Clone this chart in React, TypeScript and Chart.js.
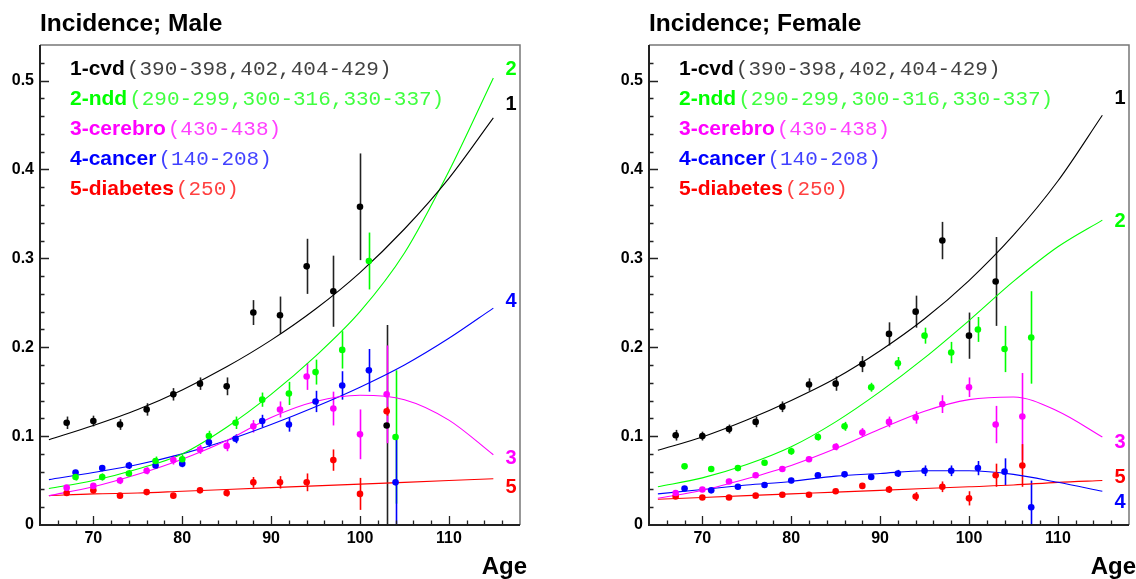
import React, { useEffect, useRef } from "react";
import { Chart, registerables } from "chart.js";

Chart.register(...registerables);

// ---------- shared ----------
const SERIES_NAMES = ["1-cvd", "2-ndd", "3-cerebro", "4-cancer", "5-diabetes"];
const SERIES_CODES = ["(390-398,402,404-429)", "(290-299,300-316,330-337)", "(430-438)", "(140-208)", "(250)"];
const SERIES_COLORS = ["#000000", "#00ff00", "#ff00ff", "#0000ff", "#ff0000"];
const ERR_COLORS = ["#222222", "#00ff00", "#ff00ff", "#0000ff", "#ff0000"];
const END_TAGS = ["1", "2", "3", "4", "5"];

const X_MIN = 64;
const X_MAX = 118;
const Y_MIN = 0;
const Y_MAX = 0.54;
const X_TICKS = [70, 80, 90, 100, 110];
const X_TICK_LABELS = ["70", "80", "90", "100", "110"];
const Y_TICKS = [0, 0.1, 0.2, 0.3, 0.4, 0.5];
const Y_TICK_LABELS = ["0", "0.1", "0.2", "0.3", "0.4", "0.5"];
const X_AXIS_TITLE = "Age";

const FIT_AGES = [65, 70, 75, 80, 85, 90, 95, 100, 105, 110, 115];

// ---------- Male ----------
const cvdAgeM = [67, 70, 73, 76, 79, 82, 85, 88, 91, 94, 97, 100, 103];
const cvdValM = [0.115, 0.117, 0.113, 0.130, 0.147, 0.159, 0.156, 0.239, 0.236, 0.291, 0.263, 0.358, 0.112];
const cvdErrM = [0.007, 0.006, 0.006, 0.007, 0.007, 0.007, 0.010, 0.014, 0.021, 0.031, 0.040, 0.060, 0.113];

const nddAgeM = [68, 71, 74, 77, 80, 83, 86, 89, 92, 95, 98, 101, 104];
const nddValM = [0.054, 0.054, 0.058, 0.072, 0.074, 0.100, 0.115, 0.141, 0.148, 0.172, 0.197, 0.297, 0.099];
const nddErrM = [0.004, 0.004, 0.004, 0.005, 0.005, 0.006, 0.007, 0.008, 0.013, 0.014, 0.021, 0.032, 0.075];

const cerAgeM = [67, 70, 73, 76, 79, 82, 85, 88, 91, 94, 97, 100, 103];
const cerValM = [0.042, 0.044, 0.050, 0.061, 0.073, 0.085, 0.089, 0.111, 0.130, 0.167, 0.131, 0.102, 0.147];
const cerErrM = [0.003, 0.003, 0.004, 0.004, 0.005, 0.005, 0.006, 0.007, 0.009, 0.015, 0.019, 0.028, 0.055];

const canAgeM = [68, 71, 74, 77, 80, 83, 86, 89, 92, 95, 98, 101, 104];
const canValM = [0.059, 0.064, 0.067, 0.067, 0.069, 0.093, 0.097, 0.117, 0.113, 0.139, 0.157, 0.174, 0.048];
const canErrM = [0.003, 0.003, 0.004, 0.004, 0.004, 0.005, 0.005, 0.007, 0.008, 0.012, 0.016, 0.024, 0.050];

const diaAgeM = [67, 70, 73, 76, 79, 82, 85, 88, 91, 94, 97, 100, 103];
const diaValM = [0.036, 0.039, 0.033, 0.037, 0.033, 0.039, 0.036, 0.048, 0.048, 0.048, 0.073, 0.035, 0.128];
const diaErrM = [0.002, 0.002, 0.002, 0.003, 0.003, 0.003, 0.004, 0.006, 0.007, 0.010, 0.012, 0.018, 0.005];

const cvdFitM = [0.096, 0.112, 0.130, 0.152, 0.178, 0.208, 0.243, 0.284, 0.333, 0.390, 0.458];
const nddFitM = [0.041, 0.050, 0.063, 0.080, 0.110, 0.147, 0.190, 0.240, 0.306, 0.398, 0.503];
const cerFitM = [0.033, 0.043, 0.057, 0.074, 0.095, 0.121, 0.139, 0.146, 0.141, 0.118, 0.079];
const canFitM = [0.051, 0.059, 0.068, 0.080, 0.095, 0.113, 0.133, 0.155, 0.180, 0.210, 0.244];
const diaFitM = [0.033, 0.035, 0.036, 0.038, 0.040, 0.042, 0.044, 0.046, 0.048, 0.050, 0.052];

const TAG_Y_MALE = [0.473, 0.513, 0.075, 0.251, 0.042];

// ---------- Female ----------
const cvdAgeF = [67, 70, 73, 76, 79, 82, 85, 88, 91, 94, 97, 100, 103];
const cvdValF = [0.101, 0.100, 0.108, 0.116, 0.133, 0.158, 0.159, 0.181, 0.215, 0.240, 0.320, 0.213, 0.274];
const cvdErrF = [0.006, 0.005, 0.005, 0.006, 0.006, 0.007, 0.008, 0.009, 0.013, 0.018, 0.021, 0.026, 0.050];

const nddAgeF = [68, 71, 74, 77, 80, 83, 86, 89, 92, 95, 98, 101, 104, 107];
const nddValF = [0.066, 0.063, 0.064, 0.070, 0.083, 0.099, 0.111, 0.155, 0.182, 0.213, 0.194, 0.220, 0.198, 0.211];
const nddErrF = [0.003, 0.003, 0.003, 0.003, 0.004, 0.004, 0.005, 0.005, 0.007, 0.009, 0.012, 0.014, 0.026, 0.052];

const cerAgeF = [67, 70, 73, 76, 79, 82, 85, 88, 91, 94, 97, 100, 103, 106];
const cerValF = [0.036, 0.040, 0.049, 0.056, 0.063, 0.074, 0.088, 0.104, 0.116, 0.121, 0.136, 0.155, 0.113, 0.122];
const cerErrF = [0.002, 0.002, 0.003, 0.003, 0.003, 0.003, 0.004, 0.005, 0.006, 0.007, 0.010, 0.011, 0.021, 0.049];

const canAgeF = [68, 71, 74, 77, 80, 83, 86, 89, 92, 95, 98, 101, 104, 107];
const canValF = [0.041, 0.039, 0.043, 0.045, 0.050, 0.056, 0.057, 0.054, 0.058, 0.061, 0.061, 0.064, 0.060, 0.020];
const canErrF = [0.002, 0.002, 0.002, 0.003, 0.003, 0.003, 0.003, 0.003, 0.004, 0.006, 0.006, 0.008, 0.015, 0.030];

const diaAgeF = [67, 70, 73, 76, 79, 82, 85, 88, 91, 94, 97, 100, 103, 106];
const diaValF = [0.032, 0.031, 0.031, 0.033, 0.034, 0.034, 0.038, 0.044, 0.040, 0.032, 0.043, 0.030, 0.056, 0.067];
const diaErrF = [0.002, 0.002, 0.002, 0.002, 0.002, 0.002, 0.003, 0.003, 0.004, 0.005, 0.006, 0.008, 0.013, 0.024];

const cvdFitF = [0.084, 0.099, 0.118, 0.140, 0.165, 0.196, 0.232, 0.275, 0.326, 0.387, 0.461];
const nddFitF = [0.043, 0.053, 0.068, 0.088, 0.116, 0.150, 0.188, 0.230, 0.274, 0.313, 0.343];
const cerFitF = [0.030, 0.039, 0.052, 0.067, 0.086, 0.108, 0.128, 0.141, 0.144, 0.128, 0.099];
const canFitF = [0.035, 0.040, 0.045, 0.049, 0.055, 0.058, 0.061, 0.061, 0.057, 0.048, 0.038];
const diaFitF = [0.029, 0.031, 0.033, 0.035, 0.037, 0.039, 0.041, 0.043, 0.045, 0.048, 0.050];

const TAG_Y_FEMALE = [0.480, 0.342, 0.0925, 0.025, 0.053];

type PanelCfg = {
  title: string;
  ages: number[][];
  vals: number[][];
  errs: number[][];
  fits: number[][];
  tagY: number[];
  padLeft: number;
  padRight: number;
};

const MALE: PanelCfg = {
  title: "Incidence; Male",
  ages: [cvdAgeM, nddAgeM, cerAgeM, canAgeM, diaAgeM],
  vals: [cvdValM, nddValM, cerValM, canValM, diaValM],
  errs: [cvdErrM, nddErrM, cerErrM, canErrM, diaErrM],
  fits: [cvdFitM, nddFitM, cerFitM, canFitM, diaFitM],
  tagY: TAG_Y_MALE,
  padLeft: 40,
  padRight: 48,
};

const FEMALE: PanelCfg = {
  title: "Incidence; Female",
  ages: [cvdAgeF, nddAgeF, cerAgeF, canAgeF, diaAgeF],
  vals: [cvdValF, nddValF, cerValF, canValF, diaValF],
  errs: [cvdErrF, nddErrF, cerErrF, canErrF, diaErrF],
  fits: [cvdFitF, nddFitF, cerFitF, canFitF, diaFitF],
  tagY: TAG_Y_FEMALE,
  padLeft: 81,
  padRight: 7,
};

const W = 568;
const H = 579;
const SANS = "'Liberation Sans', Arial, Helvetica, sans-serif";
const MONO = "'Liberation Mono', 'Courier New', monospace";

function makePlugin(cfg: PanelCfg) {
  return {
    id: "rootFrame",
    beforeDatasetsDraw(chart: any) {
      const ctx = chart.ctx;
      const { left, right, top, bottom } = chart.chartArea;
      const xs = chart.scales.x;
      const ys = chart.scales.y;
      ctx.save();
      ctx.beginPath();
      ctx.rect(left, top, right - left, bottom - top);
      ctx.clip();
      chart.data.datasets.forEach((ds: any) => {
        if (!ds.errors) return;
        ctx.strokeStyle = ds.errColor;
        ctx.lineWidth = 1.6;
        ds.data.forEach((p: any, j: number) => {
          const e = ds.errors[j];
          const px = Math.round(xs.getPixelForValue(p.x)) + 0.5;
          ctx.beginPath();
          ctx.moveTo(px, ys.getPixelForValue(p.y - e));
          ctx.lineTo(px, ys.getPixelForValue(p.y + e));
          ctx.stroke();
        });
      });
      ctx.restore();
    },
    afterDraw(chart: any) {
      const ctx = chart.ctx;
      const { left, right, top, bottom } = chart.chartArea;
      const xs = chart.scales.x;
      const ys = chart.scales.y;
      ctx.save();

      // frame: top & right
      ctx.strokeStyle = "#777777";
      ctx.lineWidth = 1.5;
      ctx.beginPath();
      ctx.moveTo(left, top);
      ctx.lineTo(right, top);
      ctx.lineTo(right, bottom);
      ctx.stroke();
      // axes: left & bottom
      ctx.strokeStyle = "#222222";
      ctx.lineWidth = 2;
      ctx.beginPath();
      ctx.moveTo(left, top);
      ctx.lineTo(left, bottom);
      ctx.lineTo(right, bottom);
      ctx.stroke();

      // ticks
      ctx.lineWidth = 1.3;
      ctx.strokeStyle = "#222222";
      ctx.beginPath();
      for (let v = 66; v < X_MAX; v += 2) {
        const px = Math.round(xs.getPixelForValue(v)) + 0.5;
        const len = v % 10 === 0 ? 9 : 4.5;
        ctx.moveTo(px, bottom);
        ctx.lineTo(px, bottom - len);
      }
      for (let k = 1; k * 0.02 < Y_MAX; k++) {
        const v = k * 0.02;
        const py = Math.round(ys.getPixelForValue(v)) + 0.5;
        const len = k % 5 === 0 ? 9 : 4.5;
        ctx.moveTo(left, py);
        ctx.lineTo(left + len, py);
      }
      ctx.stroke();

      // tick labels
      ctx.fillStyle = "#000000";
      ctx.font = `bold 16px ${SANS}`;
      ctx.textAlign = "center";
      ctx.textBaseline = "middle";
      X_TICKS.forEach((v, i) => {
        ctx.fillText(X_TICK_LABELS[i], xs.getPixelForValue(v), bottom + 14);
      });
      ctx.textAlign = "right";
      Y_TICKS.forEach((v, i) => {
        ctx.fillText(Y_TICK_LABELS[i], left - 6, ys.getPixelForValue(v));
      });

      // axis title
      ctx.font = `bold 24px ${SANS}`;
      ctx.textAlign = "right";
      ctx.textBaseline = "alphabetic";
      ctx.fillText(X_AXIS_TITLE, right + 7, 574);

      // panel title
      ctx.textAlign = "left";
      ctx.font = `bold 24.5px ${SANS}`;
      ctx.fillText(cfg.title, left, 31);

      // legend
      SERIES_NAMES.forEach((name, i) => {
        const y = top + 30 + 30 * i;
        const x = left + 30;
        ctx.fillStyle = SERIES_COLORS[i];
        ctx.font = `bold 21px ${SANS}`;
        ctx.fillText(name, x, y);
        const w = ctx.measureText(name).width;
        ctx.font = `21px ${MONO}`;
        ctx.globalAlpha = 0.75;
        ctx.fillText(SERIES_CODES[i], x + w + 2, y);
        ctx.globalAlpha = 1;
      });

      // end tags
      ctx.font = `bold 20px ${SANS}`;
      ctx.textAlign = "center";
      ctx.textBaseline = "middle";
      END_TAGS.forEach((t, i) => {
        ctx.fillStyle = SERIES_COLORS[i];
        ctx.fillText(t, right - 9, ys.getPixelForValue(cfg.tagY[i]));
      });

      ctx.restore();
    },
  };
}

function buildDatasets(cfg: PanelCfg) {
  const fitSets = cfg.fits.map((f, i) => ({
    type: "scatter",
    label: SERIES_NAMES[i] + " fit",
    data: FIT_AGES.map((a, j) => ({ x: a, y: f[j] })),
    showLine: true,
    borderColor: SERIES_COLORS[i],
    borderWidth: 1.1,
    pointRadius: 0,
    cubicInterpolationMode: "monotone",
    fill: false,
  }));
  const pointSets = cfg.vals.map((v, i) => ({
    type: "scatter",
    label: SERIES_NAMES[i],
    data: cfg.ages[i].map((a, j) => ({ x: a, y: v[j] })),
    errors: cfg.errs[i],
    errColor: ERR_COLORS[i],
    showLine: false,
    pointRadius: 3.3,
    pointBorderWidth: 0,
    pointBackgroundColor: SERIES_COLORS[i],
    pointBorderColor: SERIES_COLORS[i],
  }));
  return [...pointSets, ...fitSets];
}

function Panel({ cfg, offsetX }: { cfg: PanelCfg; offsetX: number }) {
  const ref = useRef<HTMLCanvasElement | null>(null);
  useEffect(() => {
    if (!ref.current) return;
    const chart = new Chart(ref.current, {
      type: "scatter",
      data: { datasets: buildDatasets(cfg) as any },
      options: {
        animation: false,
        responsive: false,
        devicePixelRatio: 1,
        layout: { padding: { left: cfg.padLeft, right: cfg.padRight, top: 45, bottom: 54 } },
        scales: {
          x: { type: "linear", min: X_MIN, max: X_MAX, display: false },
          y: { type: "linear", min: Y_MIN, max: Y_MAX, display: false },
        },
        plugins: { legend: { display: false }, tooltip: { enabled: false }, title: { display: false } },
        events: [],
      },
      plugins: [makePlugin(cfg) as any],
    });
    return () => chart.destroy();
  }, [cfg]);
  return (
    <canvas
      ref={ref}
      width={W}
      height={H}
      style={{ position: "absolute", left: offsetX, top: 0, width: W, height: H }}
    />
  );
}

export default function App() {
  return (
    <div style={{ position: "fixed", left: 0, top: 0, width: 1136, height: 579, background: "#ffffff", overflow: "hidden" }}>
      <Panel cfg={MALE} offsetX={0} />
      <Panel cfg={FEMALE} offsetX={568} />
    </div>
  );
}
